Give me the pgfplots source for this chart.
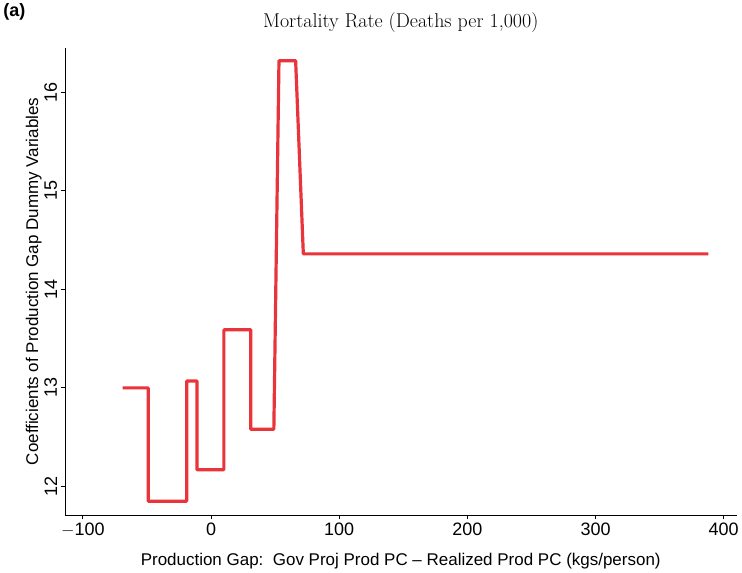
\documentclass[border=0pt]{standalone}
\usepackage{pgfplots}
\pgfplotsset{compat=1.18}
\usepackage{fontspec}
\setmainfont{Liberation Sans}
\newfontfamily\lmr{Latin Modern Roman}
\begin{document}
\begin{tikzpicture}
\begin{axis}[
  width=670bp, height=466bp, scale only axis,
  xmin=-114, xmax=410, ymin=11.71, ymax=16.45,
  axis lines*=left, axis line style={thick},
  tick align=outside, tick style={black, thick},
  xtick={-100,0,...,400}, ytick={12,13,14,15,16},
  xticklabels={$-$100,0,100,200,300,400},
  yticklabel style={rotate=90, anchor=south},
  /pgf/number format/assume math mode=true,
  ticklabel style={font=\fontsize{18}{20}\selectfont},
  label style={font=\fontsize{17}{19}\selectfont},
  xlabel={Production Gap:\ \ Gov Proj Prod PC -- Realized Prod PC (kgs/person)},
  xlabel style={yshift=-10pt},
  ylabel={Coefficients of Production Gap Dummy Variables},
  ylabel style={yshift=-4pt},
  title={\lmr\fontsize{20}{22}\selectfont Mortality Rate (Deaths per 1,000)},
  title style={yshift=6pt},
]
\addplot[color={rgb,255:red,232;green,52;blue,58}, line width=3.2pt, line join=round] coordinates {
(-69,13.0) (-49,13.0) (-49,11.85) (-19,11.85) (-19,13.07) (-11,13.07) (-11,12.17)
(10,12.17) (10,13.59) (31,13.59) (31,12.58) (49,12.58) (53,16.32) (66,16.32)
(72,14.36) (388,14.36)};
\end{axis}
\node[font=\bfseries\fontsize{18}{20}\selectfont, anchor=north west] at (-65bp,514bp) {(a)};
\end{tikzpicture}
\end{document}
